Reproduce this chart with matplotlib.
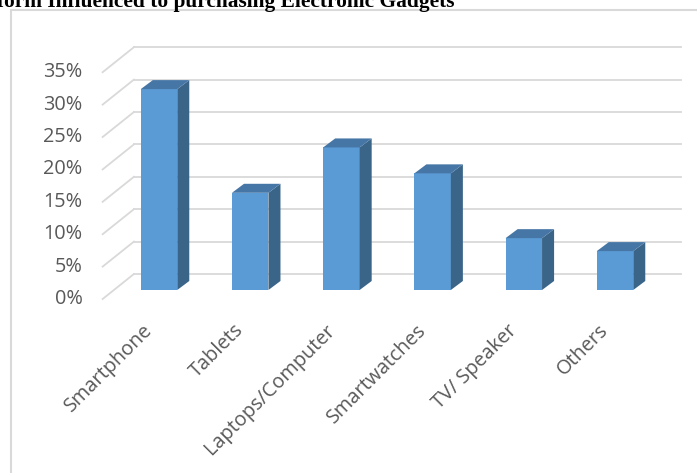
import matplotlib.pyplot as plt
from matplotlib.patches import Polygon, Rectangle

categories = ["Smartphone", "Tablets", "Laptops/Computer", "Smartwatches", "TV/ Speaker", "Others"]
values = [31, 15, 22, 18, 8, 6]
yticks = [0, 5, 10, 15, 20, 25, 30, 35]
title = "Platform Influenced to purchasing Electronic Gadgets"

front_col = "#5b9bd5"
side_col = "#3a6589"
top_col = "#4676a6"
grid_col = "#d9d9d9"
text_col = "#595959"
font = "Open Sans"

W, H = 697, 473
fig = plt.figure(figsize=(W / 100, H / 100), dpi=100)

# border of the chart area
fig.patches.append(Rectangle((10.5 / W, -0.1), 1.2, (H - 10.5) / H + 0.1, transform=fig.transFigure,
                             fill=False, edgecolor=grid_col, linewidth=1.5))

# title (cut off at top of the picture)
fig.text(455 / W, (H - 6.5) / H, title, ha="right", va="baseline", fontsize=15.4,
         fontweight="bold", family="Liberation Serif", color="black")

ax = fig.add_axes([113.4 / W, (H - 290) / H, 547.2 / W, 226.8 / H])
ax.set_xlim(-0.5, 5.5)
ax.set_ylim(0, 35)
ax.axis("off")

# 3d offsets in data units
wall_dx, wall_dy = 0.225, 2.47   # back wall relative to bar front plane
front_dx, front_dy = -0.118, -1.39  # front edge of floor
bar_dx, bar_dy = 0.132, 1.39     # bar depth
bw = 0.4

x0, x1 = -0.5, 5.5
for v in yticks:
    ax.plot([x0 + front_dx, x0 + wall_dx], [v + front_dy, v + wall_dy], color=grid_col,
            lw=1.3, clip_on=False, zorder=1)
    ax.plot([x0 + wall_dx, x1 + wall_dx], [v + wall_dy, v + wall_dy], color=grid_col,
            lw=1.3, clip_on=False, zorder=1)
    ax.text(x0 + front_dx - 0.22, v + front_dy, f"{v}%", ha="right", va="center",
            fontsize=14.3, family=font, color=text_col)

for i, v in enumerate(values):
    l, r = i - bw / 2, i + bw / 2
    ax.bar(i, v, width=bw, color=front_col, zorder=3)
    ax.add_patch(Polygon([(r, 0), (r + bar_dx, bar_dy), (r + bar_dx, v + bar_dy), (r, v)],
                         closed=True, facecolor=side_col, edgecolor="none", zorder=3, clip_on=False))
    ax.add_patch(Polygon([(l, v), (r, v), (r + bar_dx, v + bar_dy), (l + bar_dx, v + bar_dy)],
                         closed=True, facecolor=top_col, edgecolor="none", zorder=3, clip_on=False))
    ax.text(i + front_dx - 0.065, front_dy - 3.3, categories[i], rotation=45, ha="right", va="top",
            rotation_mode="anchor", fontsize=14.3, family=font, color=text_col)

fig.savefig("out.png", dpi=100)
